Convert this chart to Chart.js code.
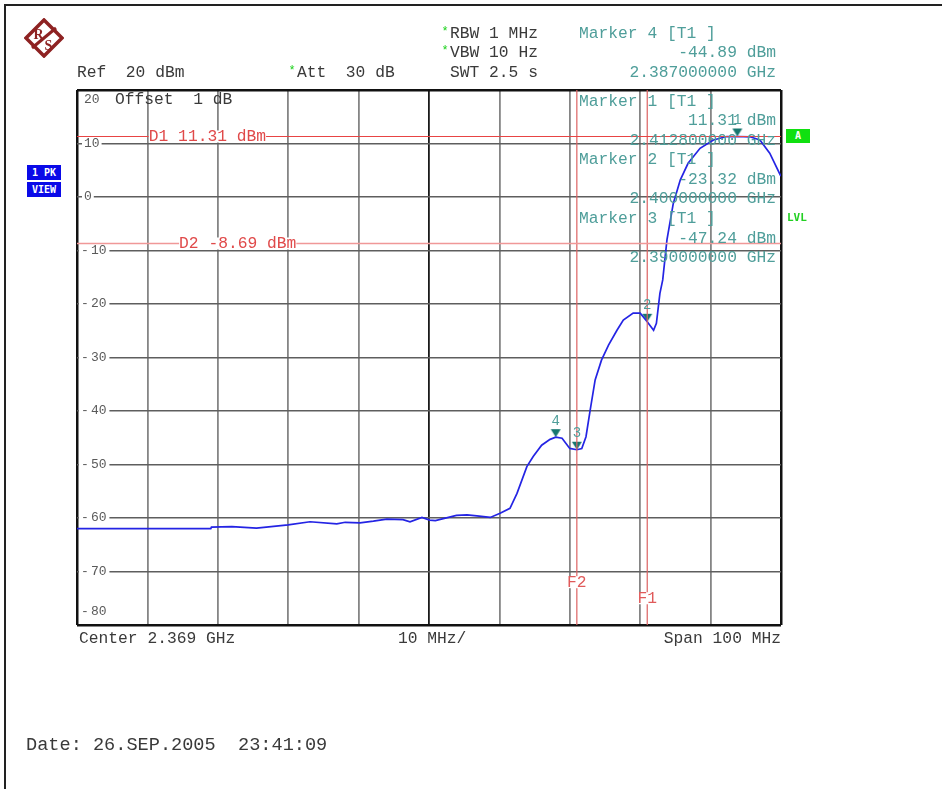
<!DOCTYPE html>
<html>
<head>
<meta charset="utf-8">
<script src="https://cdn.jsdelivr.net/npm/chart.js@4.4.0/dist/chart.umd.min.js"></script>
<style>
    body { margin: 0; background: #fff; }
    #wrap { position: relative; width: 942px; height: 789px; overflow: hidden; background: #fff; }
    #frame { position: absolute; left: 4px; top: 4px; width: 950px; height: 800px; border-top: 2px solid #222; border-left: 2px solid #222; }
    #c { position: absolute; left: 0; top: 0; }
    .t { position: absolute; font-family: "Liberation Mono", monospace; font-size: 16.3px; line-height: 20px; white-space: pre; color: #3a3a3a; }
    .r { text-align: right; right: 166px; }
    .m { color: #4f9e9a; }
    .star { color: #19d019; font-size: 12px; position: relative; top: -3px; display: inline-block; width: 10px; text-align: center; }
    .box { position: absolute; background: #0a0ae8; color: #fff; font-family: "DejaVu Sans Mono", monospace; font-weight: bold; font-size: 10px; line-height: 15px; text-align: center; }
</style>
</head>
<body>
<div id="wrap">
    <div id="frame"></div>
    <canvas id="c" width="942" height="789"></canvas>

    <svg style="position:absolute;left:24px;top:18px" width="40" height="40" viewBox="0 0 40 40">
        <polygon points="20,2 38,20 20,38 2,20" fill="#fff" stroke="#8e2222" stroke-width="3.5"/>
        <line x1="8" y1="30" x2="32" y2="10" stroke="#8e2222" stroke-width="3"/>
        <text x="9.5" y="21" font-family="Liberation Serif" font-weight="bold" font-size="14" fill="#8e2222">R</text>
        <text x="20.5" y="32" font-family="Liberation Serif" font-weight="bold" font-size="14" fill="#8e2222">S</text>
    </svg>

    <div class="t" style="left:440px;top:24px"><span class="star">*</span>RBW 1 MHz</div>
    <div class="t" style="left:440px;top:43px"><span class="star">*</span>VBW 10 Hz</div>
    <div class="t" style="left:450px;top:63px">SWT 2.5 s</div>
    <div class="t" style="left:77px;top:63px">Ref  20 dBm</div>
    <div class="t" style="left:287px;top:63px"><span class="star">*</span>Att  30 dB</div>

    <div class="t m" style="left:579px;top:24px">Marker 4 [T1 ]</div>
    <div class="t m r" style="top:43px">-44.89 dBm</div>
    <div class="t m r" style="top:63px">2.387000000 GHz</div>

    <div class="t" style="left:115px;top:90px">Offset  1 dB</div>

    <div class="t m" style="left:579px;top:92px">Marker 1 [T1 ]</div>
    <div class="t m r" style="top:111px">11.31 dBm</div>
    <div class="t m r" style="top:131px">2.412800000 GHz</div>
    <div class="t m" style="left:579px;top:150px">Marker 2 [T1 ]</div>
    <div class="t m r" style="top:170px">-23.32 dBm</div>
    <div class="t m r" style="top:189px">2.400000000 GHz</div>
    <div class="t m" style="left:579px;top:209px">Marker 3 [T1 ]</div>
    <div class="t m r" style="top:229px">-47.24 dBm</div>
    <div class="t m r" style="top:248px">2.390000000 GHz</div>

    <div class="box" style="left:27px;top:165px;width:34px;height:15px">1 PK</div>
    <div class="box" style="left:27px;top:182px;width:34px;height:15px">VIEW</div>
    <div class="box" style="left:786px;top:129px;width:24px;height:14px;background:#10e010;line-height:14px">A</div>
    <div class="t" style="left:787px;top:208px;font-size:11px;font-weight:bold;color:#22d022;font-family:'DejaVu Sans Mono',monospace">LVL</div>

    <div class="t" style="left:79px;top:629px">Center 2.369 GHz</div>
    <div class="t" style="left:398px;top:629px">10 MHz/</div>
    <div class="t" style="right:161px;top:629px">Span 100 MHz</div>
    <div class="t" style="left:26px;top:735px;font-size:18.6px;line-height:22px">Date: 26.SEP.2005  23:41:09</div>
</div>

<script>
// spectrum trace (MHz / dBm)
const freqMHz = [2319, 2338, 2338.1, 2341, 2344.5, 2349, 2352.1, 2355.9, 2357.1, 2359.2,
    2361.1, 2363, 2365.3, 2366.3, 2368, 2369.1, 2369.9, 2372.9, 2374.4, 2375.8,
    2377.7, 2379.1, 2380.5, 2381.5, 2382.9, 2383.8, 2385, 2386.2, 2387, 2387.9,
    2389, 2390, 2390.7, 2391.3, 2391.9, 2392.6, 2393.5, 2394.5, 2395.7, 2396.6,
    2398, 2399, 2400, 2400.9, 2401.3, 2401.8, 2402.2, 2402.8, 2403.7, 2404.7,
    2405.8, 2407.5, 2409.4, 2411.3, 2412.8, 2414.6, 2416, 2417.4, 2418.9, 2419];
const levelDbm = [-62.0, -62.0, -61.7, -61.6, -61.9, -61.3, -60.7, -61.1, -60.8, -60.9,
    -60.6, -60.2, -60.3, -60.7, -59.9, -60.4, -60.5, -59.5, -59.4, -59.6,
    -59.9, -59.1, -58.2, -55.4, -50.4, -48.5, -46.4, -45.3, -44.89, -45.1,
    -47.0, -47.24, -47.0, -44.8, -39.8, -34.2, -30.5, -27.7, -24.9, -23.0,
    -21.7, -21.7, -23.32, -24.9, -23.6, -18.0, -15.5, -8.0, -1.2, 3.2,
    6.3, 9.1, 10.65, 11.3, 11.31, 11.25, 10.65, 8.2, 4.1, 3.9];

const markerNames = ['1', '2', '3', '4'];
const markerMHz = [2412.8, 2400, 2390, 2387];
const markerDbm = [11.31, -23.32, -47.24, -44.89];

const dLineNames = ['D1 11.31 dBm', 'D2 -8.69 dBm'];
const dLineDbm = [11.31, -8.69];
const dLineColors = ['#e84444', '#f09898'];
const dLabelMHz = [2329.2, 2333.5];

const fLineNames = ['F1', 'F2'];
const fLineMHz = [2400, 2390];
const fLabelDbm = [-75, -72];

const xTicks = [2319, 2329, 2339, 2349, 2359, 2369, 2379, 2389, 2399, 2409, 2419];
const yTicks = [20, 10, 0, -10, -20, -30, -40, -50, -60, -70, -80];
const xMin = 2319, xMax = 2419, yMin = -80, yMax = 20;

const FONT = '"Liberation Mono", monospace';

// downward triangle whose tip sits in the image centre
function markerImage() {
    const c = document.createElement('canvas');
    c.width = 12; c.height = 18;
    const g = c.getContext('2d');
    g.fillStyle = '#17766f';
    g.beginPath();
    g.moveTo(1, 1); g.lineTo(11, 1); g.lineTo(6, 9); g.closePath();
    g.fill();
    return c;
}

const yLabelPlugin = {
    id: 'yLabels',
    beforeDatasetsDraw(chart) {
        const { ctx, chartArea, scales } = chart;
        ctx.save();
        ctx.font = '13px ' + FONT;
        ctx.textBaseline = 'middle';
        yTicks.forEach(v => {
            let y = scales.y.getPixelForValue(v);
            if (v === yMax) y = chartArea.top + 10;
            if (v === yMin) y = chartArea.bottom - 13;
            const txt = v < 0 ? '-' + String(-v) : String(v);
            const x = chartArea.left + (v < 0 ? 4 : 7);
            const w = ctx.measureText(txt).width + (v < 0 ? 3 : 0);
            if (v !== yMax && v !== yMin) {
                ctx.fillStyle = '#fff';
                ctx.fillRect(x - 2, y - 6, w + 4, 12);
            }
            ctx.fillStyle = '#5a5a5a';
            if (v < 0) {
                ctx.fillText('-', x, y);
                ctx.fillText(String(-v), x + 10, y);
            } else {
                ctx.fillText(txt, x, y);
            }
        });
        ctx.restore();
    }
};

const annotPlugin = {
    id: 'annot',
    afterDatasetsDraw(chart) {
        const { ctx, scales } = chart;
        ctx.save();
        ctx.font = '16.3px ' + FONT;
        ctx.textBaseline = 'middle';
        // display lines
        dLineNames.forEach((name, i) => {
            const x = scales.x.getPixelForValue(dLabelMHz[i]);
            const y = scales.y.getPixelForValue(dLineDbm[i]);
            const w = ctx.measureText(name).width;
            ctx.fillStyle = '#fff';
            ctx.fillRect(x, y - 6, w, 12);
            ctx.fillStyle = '#e04a4a';
            ctx.fillText(name, x, y);
        });
        // frequency lines
        ctx.textAlign = 'center';
        fLineNames.forEach((name, i) => {
            const x = scales.x.getPixelForValue(fLineMHz[i]);
            const y = scales.y.getPixelForValue(fLabelDbm[i]);
            const w = ctx.measureText(name).width;
            ctx.fillStyle = '#fff';
            ctx.fillRect(x - w / 2, y - 6, w, 12);
            ctx.fillStyle = '#e05a5a';
            ctx.fillText(name, x, y);
        });
        // marker numbers
        ctx.font = '14px ' + FONT;
        ctx.fillStyle = '#4f9e9a';
        markerNames.forEach((n, i) => {
            const x = scales.x.getPixelForValue(markerMHz[i]);
            const y = scales.y.getPixelForValue(markerDbm[i]);
            ctx.fillText(n, x, y - 16);
        });
        ctx.restore();
    }
};

const datasets = [];

dLineDbm.forEach((v, i) => {
    datasets.push({
        data: [{ x: xMin, y: v }, { x: xMax, y: v }],
        borderColor: dLineColors[i],
        borderWidth: i === 0 ? 1.2 : 1.6,
        pointRadius: 0
    });
});

fLineMHz.forEach(f => {
    datasets.push({
        data: [{ x: f, y: yMin }, { x: f, y: yMax }],
        borderColor: '#dc6262',
        borderWidth: 1.2,
        pointRadius: 0
    });
});

datasets.push({
    label: 'Trace 1',
    data: freqMHz.map((f, i) => ({ x: f, y: levelDbm[i] })),
    borderColor: '#2424e4',
    borderWidth: 1.7,
    tension: 0,
    pointRadius: 0
});

datasets.push({
    label: 'Markers',
    data: markerMHz.map((f, i) => ({ x: f, y: markerDbm[i] })),
    showLine: false,
    pointStyle: markerImage(),
    pointRadius: 6
});

new Chart(document.getElementById('c').getContext('2d'), {
    type: 'line',
    data: { datasets: datasets },
    options: {
        responsive: false,
        animation: false,
        devicePixelRatio: 1,
        layout: { padding: { left: 77, right: 161, top: 90, bottom: 164 } },
        plugins: { legend: { display: false }, tooltip: { enabled: false } },
        scales: {
            x: {
                type: 'linear',
                min: xMin,
                max: xMax,
                afterBuildTicks: s => { s.ticks = xTicks.map(v => ({ value: v })); },
                ticks: { display: false },
                border: { display: false },
                grid: {
                    drawTicks: false,
                    color: c => (c.tick.value === xMin || c.tick.value === xMax) ? '#111'
                        : (c.tick.value === 2369 ? '#1a1a1a' : '#858585'),
                    lineWidth: c => (c.tick.value === xMin || c.tick.value === xMax) ? 2.5 : 1.8
                }
            },
            y: {
                type: 'linear',
                min: yMin,
                max: yMax,
                afterBuildTicks: s => { s.ticks = yTicks.map(v => ({ value: v })); },
                ticks: { display: false },
                border: { display: false },
                grid: {
                    drawTicks: false,
                    color: c => (c.tick.value === yMin || c.tick.value === yMax) ? '#111' : '#5e5e5e',
                    lineWidth: c => (c.tick.value === yMin || c.tick.value === yMax) ? 2.5 : 1.5
                }
            }
        }
    },
    plugins: [yLabelPlugin, annotPlugin]
});
</script>
</body>
</html>
